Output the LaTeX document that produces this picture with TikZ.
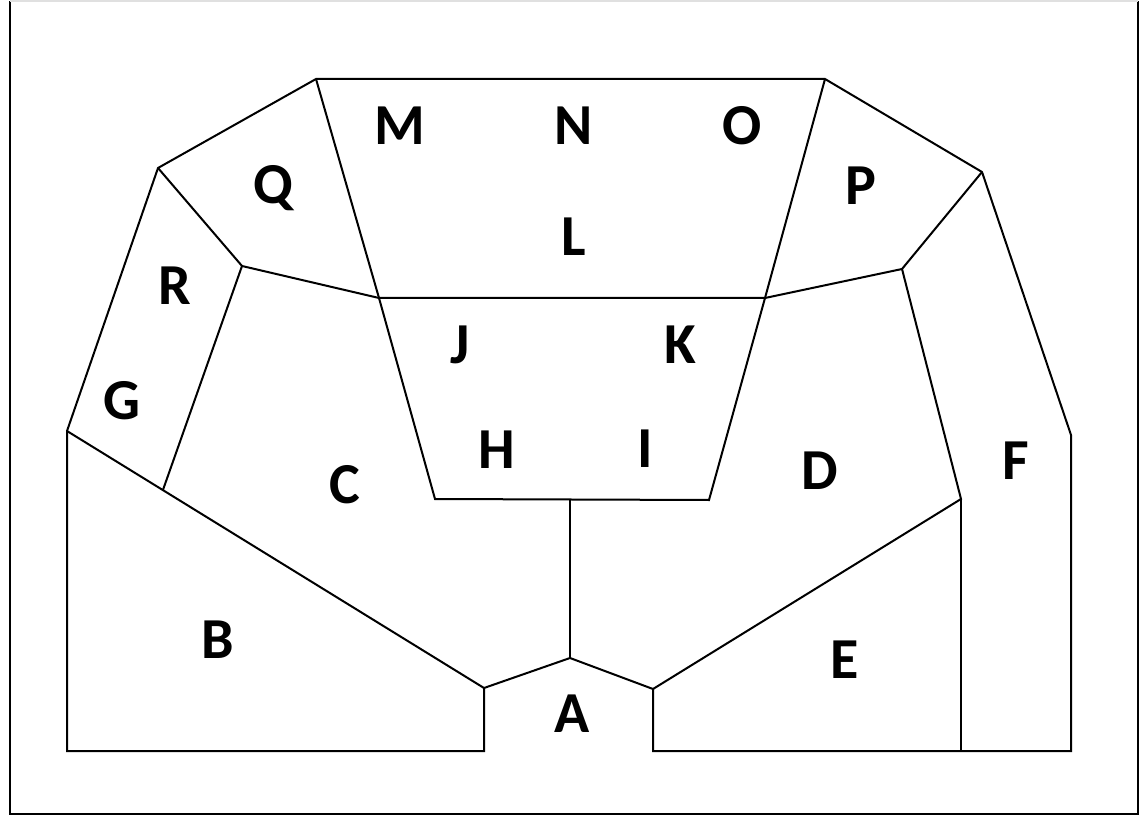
\documentclass[tikz,border=0pt]{standalone}
\usepackage{fontspec}
\setmainfont{Carlito}
\usetikzlibrary{calc}
\begin{document}
\begin{tikzpicture}[x=0.5pt,y=-0.5pt,
      wall/.style={line width=1pt, line join=miter},
      seat/.style={font=\bfseries\fontsize{29}{31}\selectfont, inner sep=0pt}]
    \useasboundingbox (0,0) rectangle (1143,817);
    % frame
    \draw[line width=0.8pt] (10,1) -- (10,814) -- (1138,814) -- (1138,1);
    \draw[line width=0.8pt, black!12] (10,1) -- (1138,1);
    % corner points of the blocks
    \coordinate (tl) at (316,79);
    \coordinate (tr) at (825,79);
    \coordinate (ql) at (158,168);
    \coordinate (pr) at (982,172);
    \coordinate (qi) at (242,266);
    \coordinate (pi) at (902,269);
    \coordinate (jl) at (379,298);
    \coordinate (kr) at (765,298);
    \coordinate (gl) at (67,431);
    \coordinate (fr) at (1071,435);
    \coordinate (hl) at (435,499);
    \coordinate (ir) at (709,500);
    \coordinate (hm) at (570,499);
    \coordinate (dr) at (961,499);
    \coordinate (at) at (570,658);
    \coordinate (bl) at (484,688);
    \coordinate (er) at (653,689);
    \coordinate (bb) at (484,751);
    \coordinate (eb) at (653,751);
    \coordinate (gb) at (67,751);
    \coordinate (fb) at (1071,751);
    \coordinate (db) at (961,751);
    \coordinate (cr) at ($(gl)!0.23!(bl)$);
    % outline
    \draw[wall] (ql) -- (tl) -- (tr) -- (pr) -- (fr) -- (fb) -- (eb) -- (er)
      -- (at) -- (bl) -- (bb) -- (gb) -- (gl) -- cycle;
    % inner walls
    \draw[wall] (ql) -- (qi) -- (jl) -- (kr) -- (pi) -- (pr);
    \draw[wall] (tl) -- (jl) -- (hl) -- (ir) -- (kr) -- (tr);
    \draw[wall] (qi) -- (cr);
    \draw[wall] (gl) -- (bl);
    \draw[wall] (hm) -- (at);
    \draw[wall] (pi) -- (dr) -- (er);
    \draw[wall] (dr) -- (db);
    % labels
    \node[seat] (M) at (400,126) {M};
    \node[seat] (N) at (574,126) {N};
    \node[seat] (O) at (742,126) {O};
    \node[seat] (Q) at (273,188) {Q};
    \node[seat] (P) at (861,186) {P};
    \node[seat] (L) at (574,237) {L};
    \node[seat] (R) at (175,286) {R};
    \node[seat] (J) at (460,345) {J};
    \node[seat] (K) at (680,345) {K};
    \node[seat] (G) at (122,401) {G};
    \node[seat] (H) at (497,450) {H};
    \node[seat] (I) at (645,449) {I};
    \node[seat] (C) at (345,485) {C};
    \node[seat] (D) at (820,471) {D};
    \node[seat] (F) at (1016,461) {F};
    \node[seat] (B) at (218,640) {B};
    \node[seat] (E) at (845,660) {E};
    \node[seat] (A) at (572,714) {A};
\end{tikzpicture}
\end{document}
